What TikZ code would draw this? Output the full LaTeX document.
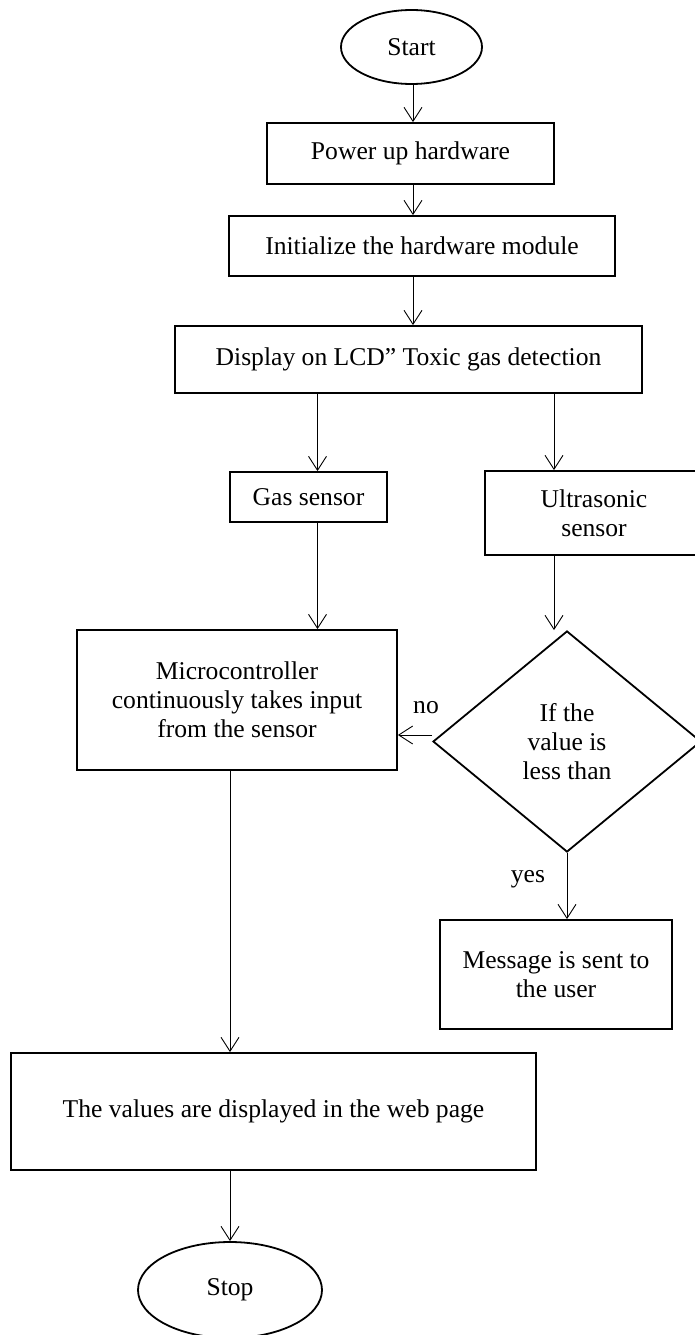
\documentclass[tikz,border=0pt]{standalone}
\usepackage{fontspec}
\setmainfont{Liberation Serif}
\usetikzlibrary{shapes.geometric,arrows.meta,calc}
\begin{document}
\begin{tikzpicture}[x=1pt,y=-1pt,
  every node/.style={font=\fontsize{25.6}{29}\selectfont},
  box/.style={draw,line width=1.8pt,rectangle,align=center,inner sep=0pt},
  term/.style={draw,line width=1.8pt,ellipse,inner sep=0pt},
  decision/.style={draw,line width=1.8pt,diamond,align=center,inner sep=0pt},
  arr/.style={line width=0.9pt,-{Straight Barb[length=14pt,width=18pt,line width=0.9pt]}}]
\useasboundingbox (0,0) rectangle (695,1335);
\clip (0,0) rectangle (695,1335);
\fill[white] (0,0) rectangle (695,1335);

\node[term, minimum width=141, minimum height=74] (start) at (411.5,47) {Start};
\node[box, minimum width=287, minimum height=61] (power) at (410.5,153.5) {Power up hardware};
\node[box, minimum width=386, minimum height=60] (init) at (422,246) {Initialize the hardware module};
\node[box, minimum width=467, minimum height=67] (disp) at (408.5,359.5) {Display on LCD” Toxic gas detection};
\node[box, minimum width=157, minimum height=50] (gas) at (308.5,497) {Gas sensor};
\node[box, minimum width=218, minimum height=84] (us) at (594,513) {Ultrasonic\\sensor};
\node[box, minimum width=320, minimum height=140] (micro) at (237,700) {Microcontroller\\continuously takes input\\from the sensor};
\node[decision, minimum width=268, minimum height=221] (dia) at (567,741.5) {If the\\value is\\less than};
\node[box, minimum width=232, minimum height=109] (msg) at (556,974.5) {Message is sent to\\the user};
\node[box, minimum width=525, minimum height=117] (web) at (273.5,1111.5) {The values are displayed in the web page};
\node[term, minimum width=184, minimum height=96] (stop) at (230,1290) {Stop};

\coordinate (xa) at (413,0);
\coordinate (xg) at (317.5,0);
\coordinate (xu) at (554,0);
\coordinate (yn) at (0,735);
\coordinate (xm) at (230,0);

\draw[arr] (start.south -| xa) -- (power.north -| xa);
\draw[arr] (power.south -| xa) -- (init.north -| xa);
\draw[arr] (init.south -| xa) -- (disp.north -| xa);
\draw[arr] (disp.south -| xg) -- (gas.north -| xg);
\draw[arr] (gas.south -| xg) -- (micro.north -| xg);
\draw[arr] (disp.south -| xu) -- (us.north -| xu);
\draw[arr] (us.south -| xu) -- (dia.north -| xu);
\draw[arr] (dia.west |- yn) -- (micro.east |- yn);
\draw[arr] (dia.south) -- (msg.north -| dia.south);
\draw[arr] (micro.south -| xm) -- (web.north -| xm);
\draw[arr] (web.south -| xm) -- (stop.north);

\node (nolbl) at (426,708) {no};
\node (yeslbl) at (528,879) {yes};
\end{tikzpicture}
\end{document}
